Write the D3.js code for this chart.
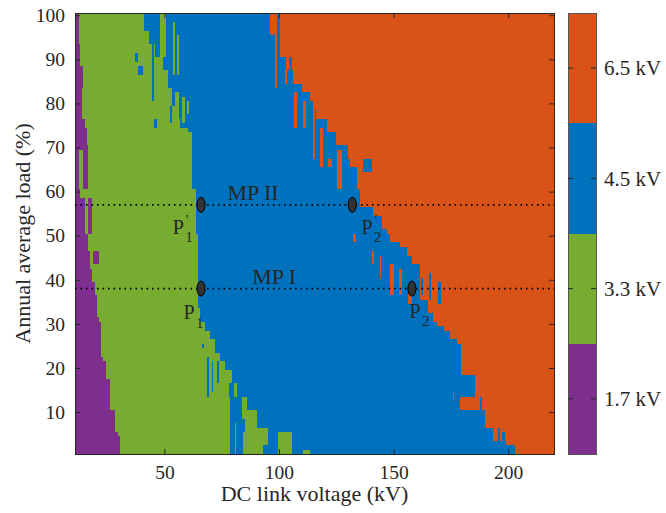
<!DOCTYPE html>
<html><head><meta charset="utf-8">
<script src="https://cdn.jsdelivr.net/npm/d3@7"></script>
<style>
body{margin:0;background:#fff}
svg{display:block}
text{font-family:"Liberation Serif","Times New Roman",serif;fill:#262626}
</style>
</head><body><svg id="c" width="666" height="513"></svg>
<script>
// ---------------- data ----------------
const levels = ["1.7 kV","3.3 kV","4.5 kV","6.5 kV"];
const levelColors = ["#7E2F8E","#77AC30","#0072BD","#D95319"];
const xTicks = [50,100,150,200];
const yTicks = [10,20,30,40,50,60,70,80,90,100];
const xLabel = "DC link voltage (kV)";
const yLabel = "Annual average load (%)";

// region edges per load row (rowFrom, rowTo, DC voltage where next level starts)
const purpleEdge = [[1,4,30.5],[5,5,29.6],[6,10,28.6],[11,17,26.4],[18,21,24.5],[22,22,23.4],[23,30,22.5],[31,31,21.5],[32,36,20.6],[37,39,19.6],[40,42,18.4],[43,46,17.6],[47,50,16.7],[51,58,15.4],[59,60,13.2],[61,70,16.5],[71,74,16.2],[75,76,15.5],[77,83,14],[84,88,14.4],[89,93,13.2],[94,100,12.6]];
const greenEdge = [[1,2,93],[3,6,95.4],[7,10,90.3],[11,13,86],[14,16,81.6],[17,19,79.4],[20,21,76.5],[22,23,74.3],[24,26,72.1],[27,28,70],[29,30,67.8],[31,33,65.6],[34,50,64.6],[51,60,63.7],[61,73,62.1],[74,74,60.3],[75,76,57],[77,79,55],[80,83,53.5],[84,87,51.5],[88,90,49.5],[91,93,46],[94,96,43.5],[97,100,41]];
const blueEdge = [[1,2,203],[3,3,199],[4,6,193.5],[7,10,190],[11,13,188.7],[14,18,185.5],[19,19,179],[20,26,177.8],[27,28,174.8],[29,29,172],[30,30,169],[31,32,167],[33,35,165],[36,43,161.7],[44,45,158.2],[46,47,156],[48,48,153],[49,50,148.6],[51,51,147],[52,54,145],[55,56,141],[57,60,135.5],[61,65,134],[66,67,131],[68,70,130],[71,73,125],[74,76,121],[77,78,116],[79,80,115],[81,82,112],[83,84,110],[85,87,106],[88,90,103],[91,100,100.5]];

// isolated patches: [V from, V to, row from, row to, level index]
const patches = [
  [12.8,14.5,61,69,1],[16.8,18.5,51,58,0],[18.9,21.6,44,46,0],
  [37.3,38.5,90,91,2],[38.5,40.6,87,88,2],[44.6,45.5,81,93,2],[45.4,46.8,75,76,2],[52.5,53.4,76,79,2],
  [48,50.5,91,100,1],[53.6,54.7,87,98,1],[55.4,56.4,87,95,1],[54.8,56.3,76,82,1],[57.7,59,76,81,1],[59.8,60.8,78,80,1],
  [66.5,67.3,25,25,2],[68.6,69.5,14,22,2],[70.7,71.4,15,21,2],[73.1,73.9,17,21,2],
  [78,80.5,14,16,2],[78.5,84,9,13,2],[78.5,85,6,8,2],[78.7,84.4,1,5,2],[80.6,81.2,1,7,1],
  [99.6,105.7,1,5,1],[110.6,113.6,1,1,1],
  [96.2,99.3,96,100,3],[98.3,99.3,84,95,3],[102.7,103.5,85,87,3],[106.6,107.8,75,82,3],[110.7,111.9,75,80,3],
  [115,115.8,68,78,3],[118,119.4,66,74,3],[121.6,123,66,67,3],[125.3,127.5,61,69,3],
  [104.5,105.5,88,90,2],[112,113.6,81,82,2],[136.8,140.4,65,67,2],
  [132.4,133.7,49,50,3],[140.7,141.3,44,46,3],[144,144.6,41,45,3],[148.6,150,37,43,3],[152.2,153.8,37,42,3],[156.5,158.2,35,37,3],
  [162,163,37,40,2],[165.5,166.5,36,41,2],[169.5,170.5,35,39,2],[177.8,179.6,19,25,2],
  [175.9,176.5,13,14,3],[179,187.7,11,13,3],[195.5,196.5,3,6,2],[197.5,198.5,2,5,2]
];

// measuring points (MP I and MP II)
const mpLines = [{label:"MP II", y:57, lx:88.7, ly:58.2},{label:"MP I", y:38, lx:97.9, ly:39.0}];
const points = [
  {x:66, y:57, name:"P", prime:true, sub:"1", lx:53.7, ly:50.5},
  {x:132,y:57, name:"P", prime:true, sub:"2", lx:136.0, ly:50.5},
  {x:66, y:38, name:"P", prime:false,sub:"1", lx:58.3, ly:31.1},
  {x:158,y:38, name:"P", prime:false,sub:"2", lx:157.0, ly:31.4}
];

// ---------------- drawing ----------------
const svg = d3.select("#c");
const L=75,R=554,T=13,B=454;
const x = d3.scaleLinear().domain([11,220]).range([L,R]);
const y = d3.scaleLinear().domain([0.5,100.5]).range([B,T]);
const col = d3.scaleOrdinal().domain([0,1,2,3]).range(levelColors);

function expand(seg){const a=[];seg.forEach(([r0,r1,v])=>{for(let r=r0;r<=r1;r++)a[r]=v;});return a;}
const pe=expand(purpleEdge), ge=expand(greenEdge), be=expand(blueEdge);
const xmin=x.domain()[0], xmax=x.domain()[1];

const cells=[];
d3.range(1,101).forEach(r=>{
  const edges=[xmin,pe[r],ge[r],be[r],xmax];
  for(let k=0;k<4;k++) if(edges[k+1]>edges[k]) cells.push({x0:edges[k],x1:edges[k+1],r0:r,r1:r,c:k});
});
patches.forEach(([x0,x1,r0,r1,c])=>cells.push({x0,x1,r0,r1,c}));

svg.append("defs").append("clipPath").attr("id","pc").append("rect")
  .attr("x",L).attr("y",T).attr("width",R-L).attr("height",B-T);

svg.append("g").attr("clip-path","url(#pc)").attr("shape-rendering","crispEdges")
  .selectAll("rect").data(cells).join("rect")
  .attr("x",d=>x(d.x0)).attr("width",d=>x(d.x1)-x(d.x0))
  .attr("y",d=>y(d.r1+0.5)).attr("height",d=>y(d.r0-0.5)-y(d.r1+0.5))
  .attr("fill",d=>col(d.c));

// axes
const axCol="#262626";
function styleAxis(g,labels){
  g.select(".domain").remove();
  g.selectAll(".tick line").attr("stroke",axCol);
  g.selectAll(".tick text").attr("fill",axCol).style("font-size","19.5px")
    .style("font-family",'"Liberation Serif","Times New Roman",serif');
  if(!labels) g.selectAll(".tick text").remove();
}
svg.append("g").attr("transform",`translate(0,${B})`)
  .call(d3.axisBottom(x).tickValues(xTicks).tickSize(-5).tickPadding(11).tickFormat(d3.format("d")))
  .call(g=>styleAxis(g,true));
svg.append("g").attr("transform",`translate(0,${T})`)
  .call(d3.axisTop(x).tickValues(xTicks).tickSize(-5)).call(g=>styleAxis(g,false));
svg.append("g").attr("transform",`translate(${L},0)`)
  .call(d3.axisLeft(y).tickValues(yTicks).tickSize(-5).tickPadding(10).tickFormat(d3.format("d")))
  .call(g=>styleAxis(g,true));
svg.append("g").attr("transform",`translate(${R},0)`)
  .call(d3.axisRight(y).tickValues(yTicks).tickSize(-5)).call(g=>styleAxis(g,false));
svg.append("rect").attr("x",L).attr("y",T).attr("width",R-L).attr("height",B-T)
  .attr("fill","none").attr("stroke",axCol).attr("stroke-width",1).attr("shape-rendering","crispEdges");

// axis labels
svg.append("text").attr("x",(L+R)/2).attr("y",501).attr("text-anchor","middle")
  .style("font-size","22px").text(xLabel);
svg.append("text").attr("transform",`translate(30,${(T+B)/2}) rotate(-90)`).attr("text-anchor","middle")
  .style("font-size","22px").text(yLabel);

// measuring lines
svg.append("g").selectAll("line").data(mpLines).join("line")
  .attr("x1",L).attr("x2",R).attr("y1",d=>y(d.y)).attr("y2",d=>y(d.y))
  .attr("stroke","#000").attr("stroke-width",1.6).attr("stroke-dasharray","1.6,3.9");
svg.append("g").selectAll("text").data(mpLines).join("text")
  .attr("x",d=>x(d.lx)).attr("y",d=>y(d.ly)).attr("text-anchor","middle")
  .style("font-size","22px").attr("fill","#000").text(d=>d.label);

// points
svg.append("g").selectAll("ellipse").data(points).join("ellipse")
  .attr("cx",d=>x(d.x)).attr("cy",d=>y(d.y)).attr("rx",4).attr("ry",7.5)
  .attr("fill","#333").attr("stroke","#000").attr("stroke-width",1);
const pl = svg.append("g").selectAll("g").data(points).join("g")
  .attr("transform",d=>`translate(${x(d.lx)},${y(d.ly)})`);
pl.append("text").attr("x",0).attr("y",0).style("font-size","20px").attr("fill","#000").text(d=>d.name);
pl.append("text").attr("x",12.5).attr("y",8.5).style("font-size","15px").attr("fill","#000").text(d=>d.sub);
pl.filter(d=>d.prime).append("text").attr("x",13).attr("y",-9).style("font-size","15px").attr("fill","#000").text("'");

// colorbar
const cbX=568, cbW=28;
const cb = d3.scaleBand().domain(d3.range(levels.length).reverse()).range([T,B]);
svg.append("g").attr("shape-rendering","crispEdges").selectAll("rect").data(d3.range(levels.length)).join("rect")
  .attr("x",cbX).attr("width",cbW).attr("y",d=>cb(d)).attr("height",cb.bandwidth()).attr("fill",d=>levelColors[d]);
svg.append("rect").attr("x",cbX).attr("y",T).attr("width",cbW).attr("height",B-T)
  .attr("fill","none").attr("stroke","#555").attr("stroke-width",1).attr("shape-rendering","crispEdges");
const cbt = svg.append("g").selectAll("g").data(d3.range(levels.length)).join("g")
  .attr("transform",d=>`translate(0,${cb(d)+cb.bandwidth()/2})`);
cbt.append("line").attr("x1",cbX).attr("x2",cbX+5).attr("stroke",axCol);
cbt.append("line").attr("x1",cbX+cbW-5).attr("x2",cbX+cbW).attr("stroke",axCol);
cbt.append("text").attr("x",cbX+cbW+8).attr("dy","0.35em").style("font-size","21px").text(d=>levels[d]);
</script></body></html>
